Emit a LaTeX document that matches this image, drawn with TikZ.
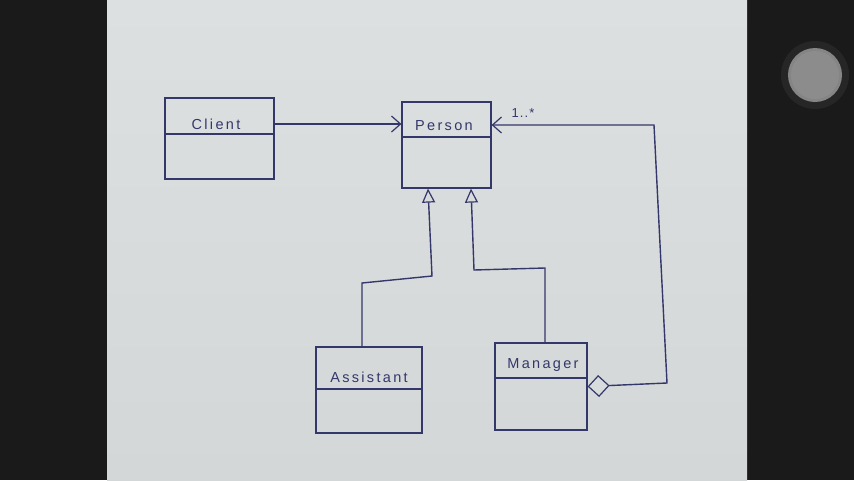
\documentclass[tikz,border=0pt]{standalone}
\usepackage{fontspec}
\newfontfamily\hand[LetterSpace=16]{Liberation Sans}
\newfontfamily\handsmall[LetterSpace=8]{Liberation Sans}
\usetikzlibrary{arrows.meta}
\definecolor{ink}{HTML}{34376A}
\definecolor{paper}{HTML}{D9DCDC}
\definecolor{papertop}{HTML}{DDE0E0}
\definecolor{paperbot}{HTML}{D4D7D8}
\definecolor{bgblack}{HTML}{1A1A1A}
\tikzset{
  cls/.style={draw=ink, line width=1.2pt, inner sep=0pt, rectangle},
  lbl/.style={text=ink, font=\hand\fontsize{14.5}{14.5}\selectfont, inner sep=0pt},
  conn/.style={draw=ink, line width=1.4pt},
  assoc/.style={conn, -{Straight Barb[length=9pt,width=16pt,line width=1.2pt]}},
  inh/.style={conn, -{Triangle[open,length=14pt,width=13pt,fill=paper,line width=1.2pt]}},
  agg/.style={conn, {Diamond[open,length=22pt,width=22pt,fill=paper,line width=1.2pt]}-{Straight Barb[length=9pt,width=16pt,line width=1.2pt]}},
}
\begin{document}
\begin{tikzpicture}[x=1pt,y=-1pt]
\useasboundingbox (0,0) rectangle (854,480);
\fill[bgblack] (0,0) rectangle (854,480);
\shade[top color=papertop, bottom color=paperbot] (107,0) rectangle (747,480);
% record button
\fill[black!85] (815,75) circle (34);
\fill[black!48] (815,75) circle (27);
\fill[black!45] (815,75) circle (24);

% classes
\node[cls, minimum width=109pt, minimum height=81pt] (client) at (219.5,138.5) {};
\draw[conn] (165,134) -- (274,134);
\node[lbl] (clientname) at (216,124) {Client};

\node[cls, minimum width=89pt, minimum height=86pt] (person) at (446.5,145) {};
\draw[conn] (402,137) -- (491,137);
\node[lbl] (personname) at (444,126) {Person};

\node[cls, minimum width=106pt, minimum height=86pt] (assistant) at (369,390) {};
\draw[conn] (316,389) -- (422,389);
\node[lbl] (assistantname) at (369,377) {Assistant};

\node[cls, minimum width=92pt, minimum height=87pt] (manager) at (541,386.5) {};
\draw[conn] (495,378) -- (587,378);
\node[lbl] (managername) at (543,365) {Manager};

% association Client -> Person
\draw[assoc] (client.east |- clientname) -- (person.west |- clientname);

% generalisations
\coordinate (a1) at (362,283);
\coordinate (a2) at (432,276);
\draw[inh] ([xshift=-7pt]assistant.north) -- (a1) -- (a2) -- ([xshift=-18.5pt]person.south);
\coordinate (m1) at (545,268);
\coordinate (m2) at (474,270);
\draw[inh] ([xshift=4pt]manager.north) -- (m1) -- (m2) -- ([xshift=24.5pt]person.south);

% aggregation Manager <>-- Person
\coordinate (r1) at (667,383);
\coordinate (r2) at (654,125);
\draw[agg] (manager.east) -- (r1) -- (r2) -- ([yshift=20pt]person.east);
\node[text=ink, font=\handsmall\fontsize{13}{13}\selectfont, inner sep=0pt] (mult) at (523,113) {1..*};
\end{tikzpicture}
\end{document}
